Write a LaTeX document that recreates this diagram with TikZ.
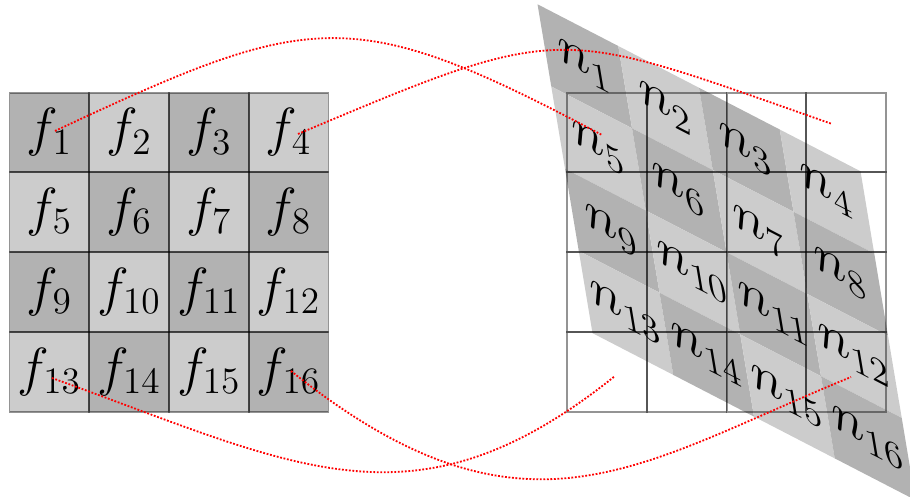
\documentclass[tikz,border=0pt]{standalone}
\usepackage{graphicx}
\usetikzlibrary{calc}
\definecolor{cellA}{gray}{0.70}
\definecolor{cellB}{gray}{0.80}
\newcommand{\celltext}[1]{\scalebox{0.924}{\huge$#1$}}
\tikzset{
  cellbase/.style={rectangle, minimum size=1cm, inner sep=0pt, outer sep=0pt},
  gridline/.style={draw=black, draw opacity=0.42, line width=0.7pt},
  link/.style={red, line width=0.65pt, dash pattern=on 0.65pt off 0.6pt},
}
\begin{document}
\begin{tikzpicture}[x=0.0125392cm, y=-0.0125392cm]
\useasboundingbox (0,0) rectangle (910,497);
% left grid
\foreach \r in {0,...,3}{\foreach \c in {0,...,3}{
  \pgfmathtruncatemacro\k{4*\r+\c+1}
  \pgfmathtruncatemacro\p{mod(\r+\c,2)}
  \ifnum\p=0 \def\fc{cellA}\else\def\fc{cellB}\fi
  \node[cellbase, fill=\fc] (f\k) at (49.375+79.75*\c, 132.575+79.75*\r) {\celltext{f_{\k}}};
}}
\foreach \k in {1,...,16}{\draw[gridline] (f\k.south west) rectangle (f\k.north east);}
% transformed cells (fills)
\begin{scope}[shift={(726.5,252.2)}, cm={1.0125,-0.5235,-0.1724,1.031,(0,0)}]
\foreach \r in {0,...,3}{\foreach \c in {0,...,3}{
  \pgfmathtruncatemacro\k{4*\r+\c+1}
  \pgfmathtruncatemacro\p{mod(\r+\c,2)}
  \ifnum\p=0 \def\fc{cellA}\else\def\fc{cellB}\fi
  \node[cellbase, transform shape, fill=\fc] (nb\k) at ({79.75*(\c-1.5)}, {79.75*(\r-1.5)}) {};
}}
\end{scope}
% right grid
\foreach \r in {0,...,3}{\foreach \c in {0,...,3}{
  \pgfmathtruncatemacro\k{4*\r+\c+1}
  \node[cellbase] (r\k) at (606.875+79.75*\c, 132.575+79.75*\r) {};
}}
\foreach \k in {1,...,16}{\draw[gridline] (r\k.south west) rectangle (r\k.north east);}
% transformed labels
\begin{scope}[shift={(726.5,252.2)}, cm={1.0125,-0.5235,-0.1724,1.031,(0,0)}]
\foreach \r in {0,...,3}{\foreach \c in {0,...,3}{
  \pgfmathtruncatemacro\k{4*\r+\c+1}
  \node[cellbase, transform shape] (n\k) at ({79.75*(\c-1.5)}, {79.75*(\r-1.5)}) {\celltext{n_{\k}}};
}}
\end{scope}
% links
\coordinate (s1) at ($(f1)+(5.6,-1.6)$);
\coordinate (e1) at ($(r1)+(-4.9,2.4)$);
\coordinate (s2) at ($(f4)+(9.4,1.4)$);
\coordinate (e2) at ($(r4)+(-14.1,-8.6)$);
\coordinate (s3) at ($(f13)+(2.6,6.2)$);
\coordinate (e3) at ($(r13)+(8.1,4.2)$);
\coordinate (s4) at ($(f16)+(2.4,-0.8)$);
\coordinate (e4) at ($(r16)+(4.9,5.2)$);
\draw[link] (s1) .. controls +(257,-120) and +(-251,-133) .. (e1);
\draw[link] (s2) .. controls +(270,-114) and +(-277,-97) .. (e2);
\draw[link] (s3) .. controls +(243,87) and +(-202,162) .. (e3);
\draw[link] (s4) .. controls +(234,187) and +(-213,87) .. (e4);
\end{tikzpicture}
\end{document}
